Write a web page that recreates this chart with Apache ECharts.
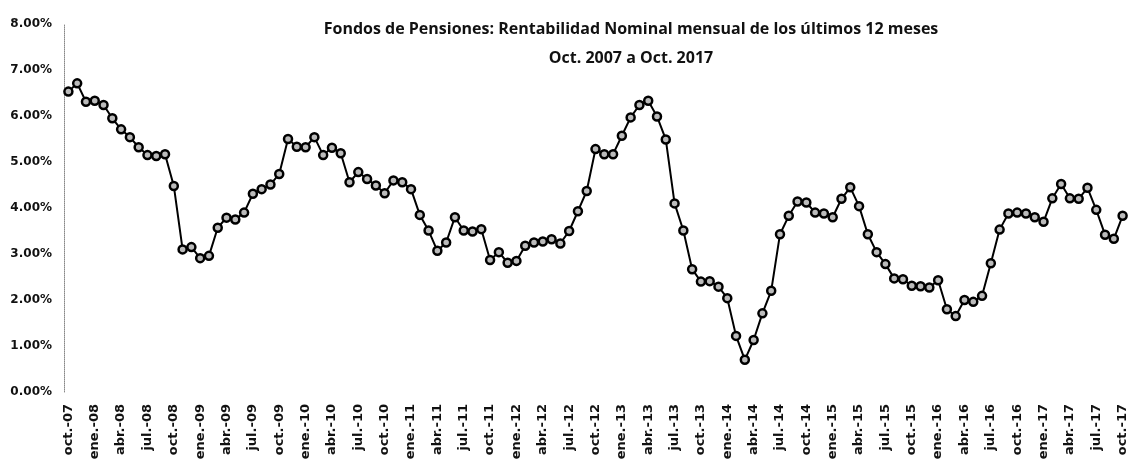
<!DOCTYPE html>
<html>
<head>
<meta charset="utf-8">
<script src="https://cdn.jsdelivr.net/npm/echarts@6/dist/echarts.min.js"></script>
<style>
  html, body { margin: 0; padding: 0; background: #fff; }
  #chart { width: 1143px; height: 475px; }
</style>
</head>
<body>
<div id="chart"></div>
<script>
// meses en español (abreviados como en la planilla)
const meses = ['ene.', 'feb.', 'mar.', 'abr.', 'may.', 'jun.', 'jul.', 'ago.', 'sep.', 'oct.', 'nov.', 'dic.']

// oct-07 ... oct-17, 121 meses
const categorias = []
for (let k = 0; k < 121; k++) {
  const m = (9 + k) % 12
  const a = 7 + Math.floor((9 + k) / 12)
  categorias.push(meses[m] + '-' + String(a).padStart(2, '0'))
}

// rentabilidad nominal de los últimos 12 meses (%)
const rentabilidad = [
  6.53, 6.71, 6.31, 6.33, 6.24, 5.95, 5.71, 5.54, 5.32, 5.15, 5.13, 5.17,   // oct-07 .. sep-08
  4.48, 3.10, 3.15, 2.91, 2.96, 3.57, 3.79, 3.75, 3.90, 4.31, 4.41, 4.51,   // oct-08 .. sep-09
  4.74, 5.50, 5.33, 5.32, 5.54, 5.15, 5.31, 5.19, 4.56, 4.78, 4.63, 4.49,   // oct-09 .. sep-10
  4.32, 4.60, 4.56, 4.41, 3.85, 3.51, 3.07, 3.25, 3.80, 3.51, 3.49, 3.54,   // oct-10 .. sep-11
  2.87, 3.04, 2.81, 2.85, 3.18, 3.25, 3.27, 3.32, 3.23, 3.50, 3.93, 4.37,   // oct-11 .. sep-12
  5.28, 5.17, 5.17, 5.57, 5.97, 6.24, 6.33, 5.99, 5.49, 4.10, 3.51, 2.67,   // oct-12 .. sep-13
  2.40, 2.41, 2.29, 2.04, 1.22, 0.70, 1.13, 1.71, 2.20, 3.43, 3.83, 4.14,   // oct-13 .. sep-14
  4.12, 3.90, 3.88, 3.80, 4.20, 4.45, 4.04, 3.43, 3.04, 2.78, 2.47, 2.45,   // oct-14 .. sep-15
  2.31, 2.30, 2.27, 2.43, 1.80, 1.65, 2.00, 1.96, 2.09, 2.80, 3.53, 3.88,   // oct-15 .. sep-16
  3.90, 3.88, 3.80, 3.70, 4.21, 4.52, 4.21, 4.20, 4.44, 3.96, 3.42, 3.33,   // oct-16 .. sep-17
  3.83                                                                      // oct-17
]

const titulo = 'Fondos de Pensiones: Rentabilidad Nominal mensual de los últimos 12 meses'
const subtitulo = 'Oct. 2007 a Oct. 2017'

const myChart = echarts.init(document.getElementById('chart'))

const option = {
  backgroundColor: '#fff',
  animation: false,
  title: {
    text: titulo + '\n' + subtitulo,
    left: 626,
    top: 10,
    textAlign: 'center',
    textStyle: {
      fontFamily: 'Open Sans, sans-serif',
      fontWeight: 'bold',
      fontSize: 16,
      color: '#111',
      lineHeight: 29
    }
  },
  grid: {
    left: 64,
    right: 16,
    top: 24,
    bottom: 83
  },
  xAxis: {
    type: 'category',
    data: categorias,
    boundaryGap: true,
    axisLine: { show: false },
    axisTick: { show: false },
    axisLabel: {
      interval: 2,
      rotate: 90,
      margin: 12,
      fontFamily: 'DejaVu Sans, Verdana, sans-serif',
      fontWeight: 'bold',
      fontSize: 13,
      color: '#111'
    }
  },
  yAxis: {
    type: 'value',
    min: 0,
    max: 8,
    interval: 1,
    splitLine: { show: false },
    axisLine: {
      show: true,
      lineStyle: { color: '#888', type: 'dotted', width: 1 }
    },
    axisTick: { show: false },
    axisLabel: {
      margin: 12,
      formatter: v => v.toFixed(2) + '%',
      fontFamily: 'DejaVu Sans, Verdana, sans-serif',
      fontWeight: 'bold',
      fontSize: 12,
      color: '#111'
    }
  },
  series: [
    {
      type: 'line',
      data: rentabilidad,
      symbol: 'circle',
      symbolSize: 8,
      showAllSymbol: true,
      lineStyle: { color: '#000', width: 2 },
      itemStyle: { color: '#bbb', borderColor: '#000', borderWidth: 2.5 }
    }
  ]
}

myChart.setOption(option)
</script>
</body>
</html>
